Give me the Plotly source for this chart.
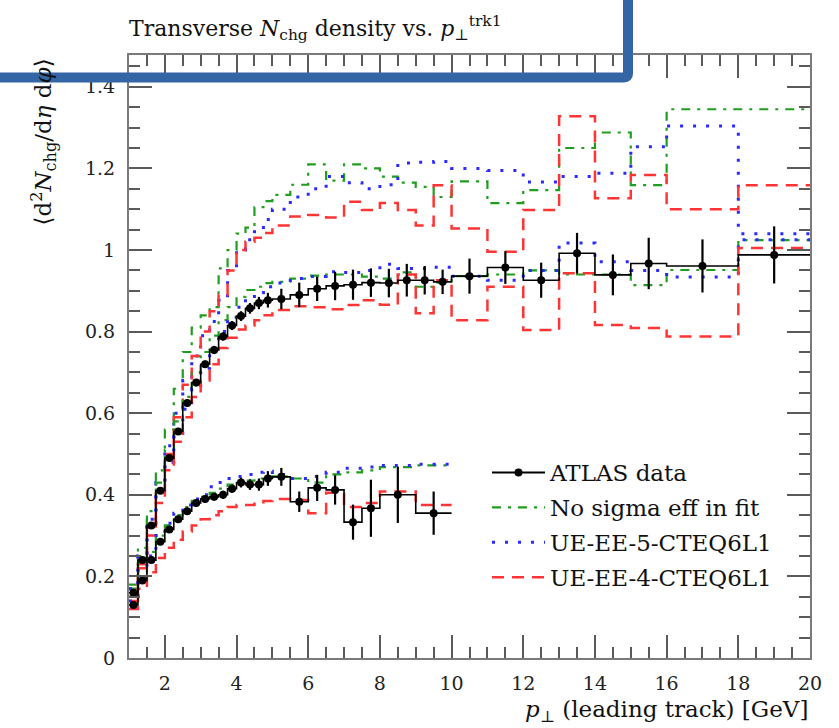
import plotly.graph_objects as go

# ---------------- data ----------------
edges_7tev = [1.0, 1.25, 1.5, 1.75, 2.0, 2.25, 2.5, 2.75, 3.0, 3.25, 3.5, 3.75, 4.0, 4.25, 4.5, 4.75,
              5.0, 5.5, 6.0, 6.5, 7.0, 7.5, 8.0, 8.5, 9.0, 9.5, 10.0, 11.0, 12.0, 13.0, 14.0, 15.0,
              16.0, 18.0, 20.0]
edges_900gev = [1.0, 1.25, 1.5, 1.75, 2.0, 2.25, 2.5, 2.75, 3.0, 3.25, 3.5, 3.75, 4.0, 4.25, 4.5, 4.75,
                5.0, 5.5, 6.0, 6.5, 7.0, 7.5, 8.0, 9.0, 10.0]

# ATLAS data (7 TeV, middle band) and errors
data_7tev = [0.16, 0.24, 0.325, 0.41, 0.49, 0.555, 0.625, 0.675, 0.72, 0.755, 0.788, 0.815, 0.838, 0.857, 0.87, 0.877,
             0.88, 0.89, 0.905, 0.912, 0.915, 0.92, 0.919, 0.926, 0.926, 0.922,
             0.936, 0.957, 0.926, 0.992, 0.939, 0.967,
             0.961, 0.988]
err_7tev = [0.006, 0.006, 0.007, 0.007, 0.008, 0.008, 0.008, 0.009, 0.009, 0.01, 0.01, 0.011, 0.012, 0.013, 0.015, 0.018,
            0.025, 0.03, 0.03, 0.035, 0.037, 0.035, 0.035, 0.04, 0.035, 0.03,
            0.043, 0.04, 0.043, 0.05, 0.05, 0.063,
            0.065, 0.07]

# ATLAS data (900 GeV, lower band) and errors
data_900gev = [0.13, 0.19, 0.24, 0.285, 0.315, 0.34, 0.36, 0.38, 0.39, 0.395, 0.40, 0.415, 0.43, 0.425, 0.425, 0.44,
               0.444, 0.383, 0.417, 0.412, 0.333, 0.367,
               0.40, 0.355]
err_900gev = [0.005, 0.005, 0.006, 0.006, 0.007, 0.007, 0.008, 0.008, 0.009, 0.009, 0.01, 0.01, 0.012, 0.013, 0.015, 0.018,
              0.022, 0.025, 0.032, 0.036, 0.043, 0.07,
              0.069, 0.053]

# Model predictions, upper band (7 TeV binning)
green_upper = [0.18, 0.27, 0.36, 0.46, 0.56, 0.66, 0.75, 0.81, 0.84, 0.86, 0.955, 1.0, 1.04, 1.055, 1.105, 1.12,
               1.135, 1.16, 1.21, 1.17, 1.21, 1.2, 1.18, 1.165, 1.155, 1.13,
               1.168, 1.115, 1.147, 1.25, 1.288, 1.159,
               1.345, 1.345]
blue_upper = [0.17, 0.25, 0.34, 0.43, 0.52, 0.6, 0.68, 0.74, 0.79, 0.825, 0.877, 0.95, 1.0, 1.025, 1.045, 1.075,
              1.10, 1.13, 1.15, 1.18, 1.165, 1.15, 1.16, 1.213, 1.215, 1.217,
              1.2, 1.195, 1.167, 1.18, 1.188, 1.253,
              1.304, 1.04]
red_upper = [0.15, 0.23, 0.32, 0.41, 0.5, 0.59, 0.67, 0.74, 0.8, 0.85, 0.89, 0.95, 1.0, 1.02, 1.03, 1.042,
             1.06, 1.082, 1.086, 1.08, 1.118, 1.098, 1.115, 1.098, 1.06, 1.159,
             1.053, 0.996, 1.098, 1.328, 1.127, 1.184,
             1.1, 1.159]

# Model predictions, middle band (7 TeV binning)
green_middle = [0.17, 0.25, 0.34, 0.43, 0.51, 0.58, 0.64, 0.7, 0.75, 0.79, 0.828, 0.86, 0.885, 0.902, 0.91, 0.919,
                0.922, 0.93, 0.937, 0.94, 0.94, 0.935, 0.93, 0.945, 0.91, 0.92,
                0.936, 0.94, 0.95, 0.94, 0.94, 0.914,
                0.951, 1.024]
blue_middle = [0.17, 0.25, 0.33, 0.41, 0.48, 0.55, 0.61, 0.66, 0.71, 0.76, 0.8, 0.835, 0.86, 0.88, 0.895, 0.91,
               0.919, 0.93, 0.935, 0.947, 0.945, 0.95, 0.965, 0.955, 0.955, 0.958,
               0.936, 0.926, 0.95, 1.017, 0.971, 0.95,
               0.934, 1.025]
red_middle = [0.14, 0.22, 0.3, 0.38, 0.46, 0.53, 0.59, 0.64, 0.68, 0.72, 0.76, 0.785, 0.805, 0.815, 0.828, 0.84,
              0.853, 0.862, 0.86, 0.855, 0.865, 0.877, 0.866, 0.94, 0.845, 0.926,
              0.828, 0.91, 0.804, 0.943, 0.816, 0.809,
              0.788, 1.005]

# Model predictions, lower band (900 GeV binning)
green_lower = [0.15, 0.21, 0.26, 0.3, 0.325, 0.35, 0.37, 0.385, 0.395, 0.405, 0.415, 0.425, 0.43, 0.435, 0.44, 0.445,
               0.445, 0.44, 0.43, 0.45, 0.455, 0.46,
               0.468, 0.472]
blue_lower = [0.14, 0.2, 0.25, 0.3, 0.33, 0.355, 0.375, 0.39, 0.4, 0.42, 0.43, 0.44, 0.445, 0.45, 0.455, 0.458,
              0.45, 0.44, 0.445, 0.455, 0.465, 0.468,
              0.472, 0.475]
red_lower = [0.12, 0.17, 0.21, 0.245, 0.27, 0.29, 0.31, 0.325, 0.34, 0.35, 0.36, 0.37, 0.375, 0.375, 0.378, 0.385,
             0.39, 0.387, 0.355, 0.405, 0.37, 0.38,
             0.408, 0.375]

model_names = ["No sigma eff in fit", "UE-EE-5-CTEQ6L1", "UE-EE-4-CTEQ6L1"]
data_name = "ATLAS data"

xtick_vals = [2, 4, 6, 8, 10, 12, 14, 16, 18, 20]
xtick_text = ["2", "4", "6", "8", "10", "12", "14", "16", "18", "20"]
ytick_vals = [0, 0.2, 0.4, 0.6, 0.8, 1.0, 1.2, 1.4]
ytick_text = ["0", "0.2", "0.4", "0.6", "0.8", "1", "1.2", "1.4"]

# ---------------- styles ----------------
FONT = "DejaVu Serif"
GREEN = "#1f9e1f"
BLUE = "#2a2aff"
RED = "#ff3535"
styles = {
    model_names[0]: dict(color=GREEN, width=2.2, dash="9px,7px,3px,7px"),
    model_names[1]: dict(color=BLUE, width=3.0, dash="3px,10px"),
    model_names[2]: dict(color=RED, width=2.5, dash="12px,8px"),
}


def centers(edges):
    return [(a + b) / 2 for a, b in zip(edges[:-1], edges[1:])]


def step_y(vals):
    return list(vals) + [vals[-1]]


fig = go.Figure()

bands = [
    (edges_7tev, [green_upper, blue_upper, red_upper], False),
    (edges_7tev, [green_middle, blue_middle, red_middle], True),
    (edges_900gev, [green_lower, blue_lower, red_lower], False),
]
for edges, series, show in bands:
    for name, vals in zip(model_names, series):
        fig.add_trace(go.Scatter(
            x=edges, y=step_y(vals), mode="lines", name=name,
            line=dict(shape="hv", **styles[name]),
            legendgroup=name, showlegend=show,
            legendrank=2 + model_names.index(name),
            hoverinfo="skip",
        ))

# data
for edges, vals, errs in [(edges_7tev, data_7tev, err_7tev), (edges_900gev, data_900gev, err_900gev)]:
    fig.add_trace(go.Scatter(
        x=edges, y=step_y(vals), mode="lines",
        line=dict(shape="hv", color="black", width=1.6),
        legendgroup="data", showlegend=False, hoverinfo="skip",
    ))
    fig.add_trace(go.Scatter(
        x=centers(edges), y=vals, mode="markers",
        marker=dict(color="black", size=8),
        error_y=dict(type="data", array=errs, visible=True, color="black", thickness=2.2, width=0),
        legendgroup="data", showlegend=False,
    ))

# legend entry for the data
fig.add_trace(go.Scatter(
    x=[None], y=[None], mode="lines+markers", name=data_name,
    line=dict(color="black", width=2), marker=dict(color="black", size=8),
    legendgroup="data", showlegend=True, legendrank=1,
))

axis_common = dict(
    showline=True, linecolor="#7a7a7a", linewidth=2, mirror="ticks",
    ticks="inside", ticklen=23, tickwidth=1.6, tickcolor="#5a5a5a",
    showgrid=False, zeroline=False,
    tickfont=dict(family=FONT, size=19, color="#222222"),
)

fig.update_xaxes(
    range=[1, 20], tickmode="array", tickvals=xtick_vals, ticktext=xtick_text,
    minor=dict(dtick=0.5, tick0=0, ticks="inside", ticklen=11, tickwidth=1.6, tickcolor="#5a5a5a"),
    ticklabelstandoff=7,
    **axis_common,
)
fig.update_yaxes(
    range=[0, 1.478], tickmode="array", tickvals=ytick_vals, ticktext=ytick_text,
    minor=dict(dtick=0.05, tick0=0, ticks="inside", ticklen=11, tickwidth=1.6, tickcolor="#5a5a5a"),
    ticklabelstandoff=8,
    **axis_common,
)

W, H = 839, 728
L, R, T, B = 129, 29, 55, 70
pw, ph = W - L - R, H - T - B


def px2x(px):
    return (px - L) / pw


def py2y(py):
    return (H - B - py) / ph


fig.update_layout(
    width=W, height=H,
    margin=dict(l=L, r=R, t=T, b=B),
    paper_bgcolor="white", plot_bgcolor="white",
    font=dict(family=FONT, color="black"),
    title=dict(
        text="Transverse <i>N</i><sub>chg</sub> density vs. <i>p</i><sub>⊥</sub><sup>trk1</sup>",
        x=0, xref="paper", xanchor="left",
        y=1 - 28 / H, yref="container", yanchor="middle",
        font=dict(family=FONT, size=22, color="#111111"),
    ),
    legend=dict(
        x=px2x(487), y=py2y(451), xanchor="left", yanchor="top",
        font=dict(family=FONT, size=23, color="#111111"),
        bgcolor="rgba(0,0,0,0)", traceorder="grouped", tracegroupgap=2,
        itemwidth=53,
    ),
    showlegend=True,
)

fig.add_annotation(
    text="<i>p</i><sub>⊥</sub> (leading track) [GeV]",
    x=1, xref="paper", xanchor="right",
    y=py2y(711), yref="paper", yanchor="middle",
    showarrow=False, font=dict(family=FONT, size=23, color="#111111"),
)
fig.add_annotation(
    text="⟨d<sup>2</sup><i>N</i><sub>chg</sub>/d<i>η</i> d<i>φ</i>⟩",
    textangle=-90,
    x=px2x(43), xref="paper", xanchor="center",
    y=py2y(57), yref="paper", yanchor="top",
    showarrow=False, font=dict(family=FONT, size=23, color="#111111"),
)

# blue highlight box framing the title (partly outside the page)
bx = px2x(628)
by = py2y(77.5)
rx = 4 / pw
ry = 4 / ph
path = (f"M {px2x(-40)},{by} L {bx - rx},{by} Q {bx},{by} {bx},{by + ry} "
        f"L {bx},{py2y(-40)}")
fig.add_shape(type="path", path=path, xref="paper", yref="paper",
              line=dict(color="#3465a4", width=10), layer="above")

fig.write_html("out.html")
